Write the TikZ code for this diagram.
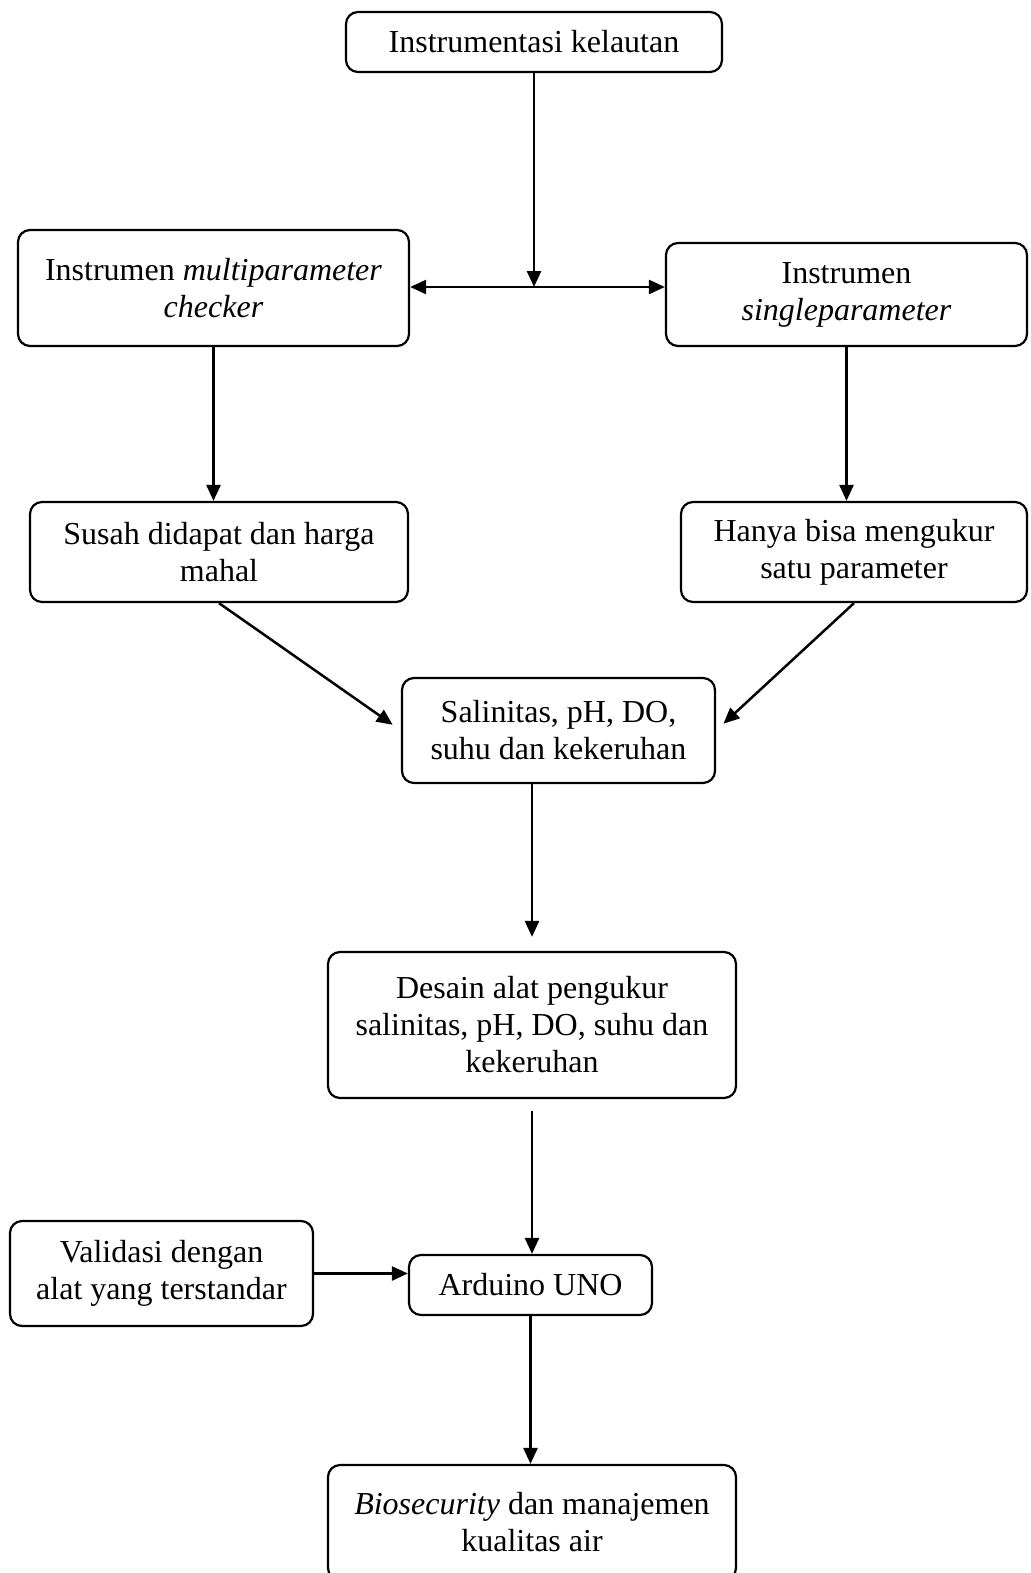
\documentclass[tikz,border=0pt]{standalone}
\usepackage{fontspec}
\setmainfont{Liberation Serif}
\usetikzlibrary{arrows.meta}
\begin{document}
\begin{tikzpicture}[x=0.5pt, y=-0.5pt, >={Triangle[length=8pt,width=7pt]},
    box/.style={draw, line width=1.1pt, rounded corners=6pt, align=center, inner sep=0pt,
        font=\fontsize{16}{18.5}\selectfont},
    link/.style={->, line width=1.25pt}]
    \useasboundingbox (0,0) rectangle (1030,1573);

    \node[box, minimum width=188pt, minimum height=30pt] (inst) at (534,42) {Instrumentasi kelautan};
    \node[box, minimum width=195.5pt, minimum height=58pt] (multi) at (213.5,288)
        {Instrumen \textit{multiparameter}\\ \textit{checker}};
    \node[box, minimum width=180.5pt, minimum height=51.5pt] (single) at (846.5,294.5)
        {Instrumen\\ \textit{singleparameter}};
    \node[box, minimum width=189pt, minimum height=50pt] (susah) at (219,552)
        {Susah didapat dan harga\\ mahal};
    \node[box, minimum width=173pt, minimum height=50pt] (hanya) at (854,552)
        {Hanya bisa mengukur\\ satu parameter};
    \node[box, minimum width=156.5pt, minimum height=52.5pt] (salin) at (558.5,730.5)
        {Salinitas, pH, DO,\\ suhu dan kekeruhan};
    \node[box, minimum width=204pt, minimum height=73pt] (desain) at (532,1025)
        {Desain alat pengukur\\ salinitas, pH, DO, suhu dan\\ kekeruhan};
    \node[box, minimum width=151.5pt, minimum height=52.5pt] (valid) at (161.5,1273.5)
        {Validasi dengan\\ alat yang terstandar};
    \node[box, minimum width=121.5pt, minimum height=30pt] (uno) at (530.5,1285) {Arduino UNO};
    \node[box, minimum width=204pt, minimum height=57.5pt] (bio) at (532,1522.5)
        {\textit{Biosecurity} dan manajemen\\ kualitas air};

    \coordinate (mid) at (534,287);
    \draw[link] (inst.south) -- (mid);
    \draw[<->, line width=1.25pt] (multi.east |- mid) -- (mid -| single.west);
    \draw[link] (multi.south) -- (multi.south |- susah.north);
    \draw[link] (single.south) -- (single.south |- hanya.north);
    \draw[link, shorten >=5pt] (susah.south) -- (salin.west);
    \draw[link, shorten >=5pt] (hanya.south) -- (salin.east);
    \draw[link, shorten >=7pt] (desain.north |- salin.south) -- (desain.north);
    \draw[link, shorten <=6pt] (desain.south) -- (desain.south |- uno.north);
    \draw[link] (valid.east) -- (valid.east -| uno.west);
    \draw[link] (uno.south) -- (uno.south |- bio.north);
\end{tikzpicture}
\end{document}
